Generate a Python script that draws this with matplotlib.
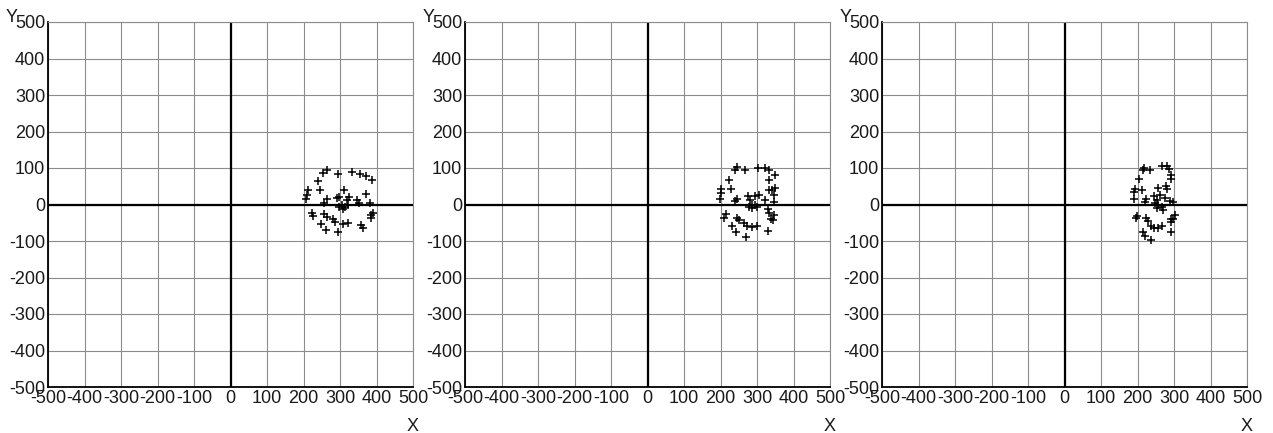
import matplotlib
matplotlib.use("Agg")
import matplotlib.pyplot as plt
import numpy as np

plt.rcParams['font.family'] = ['Liberation Sans', 'DejaVu Sans']

ticks = list(range(-500, 501, 100))
tick_labels = [str(t) for t in ticks]

x1 = [263.6, 254.5, 293.6, 331.8, 354.5, 371, 389, 241, 245.5, 213.6, 209, 207, 312, 371,
      263.6, 257, 291, 298, 325.5, 318, 345.5, 353, 382, 298, 307, 313.6, 322.7, 304.5,
      222.7, 225.5, 257, 263.6, 280, 286, 309, 321, 248, 261.8, 293.6, 357, 362, 386, 391, 384.5]
y1 = [93.6, 87, 82.7, 89, 82.7, 77, 66, 63.6, 41, 39, 27, 16, 41, 30,
      16, 4.5, 18, 21, 21, 12, 13.6, 4.5, 3, -6, -11, -6, -2, -2,
      -22.7, -32, -27, -33.6, -40, -47, -54.5, -52, -54.5, -70, -76, -56, -65.5, -29, -23, -38]

x2 = [245.6, 239, 268, 303, 321, 332, 349, 224.6, 332, 230, 202.7, 200, 198, 350.5, 332, 341,
      346, 305, 294, 275.7, 245.6, 239, 282, 286.6, 294, 286.6, 300, 277.5, 323, 346,
      213.7, 209, 245.6, 250, 263.8, 273, 286.6, 300, 232, 243, 270, 330, 334, 346, 337, 344.6, 330]
y2 = [102.7, 93.6, 95.5, 101, 101, 93.6, 80, 68, 66, 43.6, 43.6, 32.7, 14.5, 45.5, 39, 39,
      27, 27, 23.6, 23.6, 16, 9, 12, 0, -2, -9, -6, -6, 12, 7,
      -27, -36, -36, -43, -52, -59, -61, -59, -59, -76, -88, -73, -24.5, -29, -41, -43, -11]

x3 = [217, 214, 235, 266, 279.5, 285.7, 291, 205, 291, 255, 279.5, 277, 212.5, 193, 190, 190,
      246, 261.6, 252.7, 275, 224, 219.6, 248, 257, 252.7, 266, 288, 297, 270.5,
      199, 196.4, 224, 230, 237.5, 244, 255, 266, 214, 220.5, 238, 291, 302, 291, 291, 297]
y3 = [100, 93.6, 95.5, 105.5, 104.5, 98, 80, 71, 69, 46, 43.6, 51, 41, 43.6, 34.5, 16,
      23, 25.5, 13.6, 18, 16, 5.5, 3, -2, -9, -6, 9, 5.5, -15.5,
      -32, -38, -36, -45.5, -59, -63.6, -65.5, -59, -74.5, -86, -97, -74.5, -29, -40, -47, -41]

series = [(x1, y1), (x2, y2), (x3, y3)]
lefts = [48, 465, 882]

W, H = 1273, 433
fig = plt.figure(figsize=(W / 100, H / 100), dpi=100)

for (xs, ys), left in zip(series, lefts):
    ax = fig.add_axes([left / W, (H - 387) / H, 365 / W, 365 / H])
    ax.set_xlim(-500, 500)
    ax.set_ylim(-500, 500)
    ax.set_xticks(ticks)
    ax.set_yticks(ticks)
    ax.set_xticklabels(tick_labels)
    ax.set_yticklabels(tick_labels)
    ax.tick_params(length=0, labelsize=13, colors='#1a1a1a', pad=2)
    ax.grid(True, color='#8c8c8c', linewidth=0.8)
    ax.set_axisbelow(True)
    for s in ['top', 'right']:
        ax.spines[s].set_color('#8c8c8c')
        ax.spines[s].set_linewidth(0.8)
    for s in ['left', 'bottom']:
        ax.spines[s].set_color('black')
        ax.spines[s].set_linewidth(1.3)
    ax.axhline(0, color='black', linewidth=1.6, zorder=2)
    ax.axvline(0, color='black', linewidth=1.6, zorder=2)
    ax.scatter(xs, ys, marker='+', s=32, color='black', linewidths=1.1, zorder=3)
    ax.text(-0.1, 1.012, 'Y', transform=ax.transAxes, fontsize=13, ha='center', va='center',
            color='#1a1a1a')
    ax.text(1.0, -0.107, 'X', transform=ax.transAxes, fontsize=13, ha='center', va='center',
            color='#1a1a1a')

fig.savefig('out.png', dpi=100)
